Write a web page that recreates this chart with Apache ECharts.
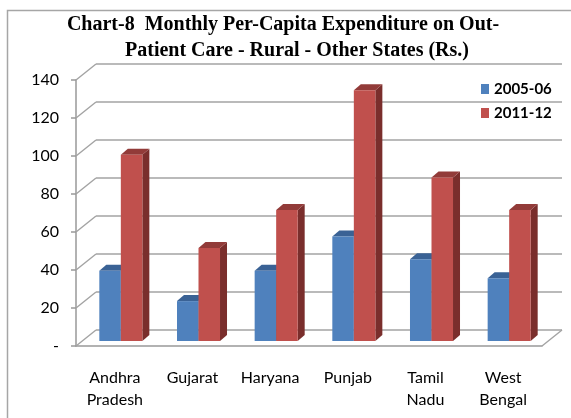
<!DOCTYPE html>
<html>
<head>
<meta charset="utf-8">
<script src="https://cdn.jsdelivr.net/npm/echarts@6/dist/echarts.min.js"></script>
<style>
  html, body { margin: 0; padding: 0; background: #fff; }
  #main { width: 571px; height: 418px; }
</style>
</head>
<body>
<div id="main"></div>
<script>
var states = ['Andhra\nPradesh', 'Gujarat', 'Haryana', 'Punjab', 'Tamil\nNadu', 'West\nBengal'];
var years = ['2005-06', '2011-12'];
var exp0506 = [37, 21, 37, 55, 43, 33];
var exp1112 = [98, 49, 69, 132, 86, 69];
var yTicks = [0, 20, 40, 60, 80, 100, 120, 140];

// fake 3d: back wall offset, bar offset, bar depth
var DX = 20, DY = -16;
var BX = 6, BY = -5;
var BDX = 7, BDY = -6;

var chart = echarts.init(document.getElementById('main'));

function wallItem(params, api) {
  var cs = params.coordSys;
  var y = api.coord([0, api.value(1)])[1];
  var lineStyle = { stroke: '#a3a3a3', lineWidth: 1.5 };
  var children = [
    { type: 'line', shape: { x1: cs.x, y1: y, x2: cs.x + DX, y2: y + DY }, style: lineStyle },
    { type: 'line', shape: { x1: cs.x + DX, y1: y + DY, x2: cs.x + cs.width + DX, y2: y + DY }, style: lineStyle }
  ];
  if (api.value(1) === 0) {
    children.push({ type: 'line', shape: { x1: cs.x + cs.width, y1: y, x2: cs.x + cs.width + DX, y2: y + DY }, style: lineStyle });
  }
  return { type: 'group', silent: true, children: children };
}

function barItem(right, front, top, side) {
  return function (params, api) {
    var i = api.value(0);
    var p0 = api.coord([i, 0]);
    var p1 = api.coord([i, api.value(1)]);
    var w = api.size([1, 0])[0] * 0.277;
    var x0 = p0[0] + BX + (right ? 0 : -w);
    var x1 = x0 + w;
    var yb = p0[1] + BY, yt = p1[1] + BY;
    return {
      type: 'group',
      children: [
        { type: 'polygon', shape: { points: [[x1, yt], [x1 + BDX, yt + BDY], [x1 + BDX, yb + BDY], [x1, yb]] }, style: { fill: side } },
        { type: 'polygon', shape: { points: [[x0, yt], [x0 + BDX, yt + BDY], [x1 + BDX, yt + BDY], [x1, yt]] }, style: { fill: top } },
        { type: 'rect', shape: { x: x0, y: yt, width: w, height: yb - yt }, style: { fill: front } }
      ]
    };
  };
}

var option = {
  animation: false,
  graphic: [
    { type: 'rect', shape: { x: 7.5, y: 10.5, width: 620, height: 450 }, style: { fill: 'none', stroke: '#a6a6a6', lineWidth: 1.5 } },
    { type: 'text', x: 283, y: 25, style: { text: 'Chart-8  Monthly Per-Capita Expenditure on Out-', align: 'center', verticalAlign: 'middle', font: 'bold 20px "Liberation Serif"', fill: '#000' } },
    { type: 'text', x: 297, y: 51, style: { text: 'Patient Care - Rural - Other States (Rs.)', align: 'center', verticalAlign: 'middle', font: 'bold 20px "Liberation Serif"', fill: '#000' } }
  ],
  legend: {
    data: years,
    orient: 'vertical',
    left: 481,
    top: 81,
    padding: 0,
    itemWidth: 8,
    itemHeight: 10,
    itemGap: 8,
    icon: 'rect',
    textStyle: { fontFamily: 'Lato', fontWeight: 'bold', fontSize: 15, lineHeight: 16, color: '#000' }
  },
  grid: { left: 76, right: 29, top: 80, bottom: 72 },
  xAxis: {
    type: 'category',
    data: states,
    axisLine: { lineStyle: { color: '#999', width: 1.5 } },
    axisTick: { length: 6, lineStyle: { color: '#999', width: 1.5 } },
    axisLabel: { fontFamily: 'Lato', fontSize: 16, lineHeight: 22, color: '#000', margin: 21, interval: 0 }
  },
  yAxis: {
    type: 'value',
    min: 0,
    max: 140,
    interval: 20,
    axisLine: { show: true, lineStyle: { color: '#999', width: 1.5 } },
    axisTick: { show: true, length: 5, lineStyle: { color: '#999', width: 1.5 } },
    splitLine: { show: false },
    axisLabel: {
      fontFamily: 'Lato', fontSize: 16, color: '#000', margin: 17,
      formatter: function (v) { return v === 0 ? '-' : v; }
    }
  },
  series: [
    {
      type: 'custom',
      silent: true,
      z: 1,
      renderItem: wallItem,
      encode: { x: 0, y: 1 },
      data: yTicks.map(function (v) { return [0, v]; })
    },
    {
      name: years[0],
      type: 'custom',
      z: 2,
      itemStyle: { color: '#4F81BD' },
      renderItem: barItem(false, '#4F81BD', '#3A6295', '#2E4F78'),
      encode: { x: 0, y: 1 },
      data: exp0506.map(function (v, i) { return [i, v]; })
    },
    {
      name: years[1],
      type: 'custom',
      z: 3,
      itemStyle: { color: '#C0504D' },
      renderItem: barItem(true, '#C0504D', '#923B39', '#7A2E2C'),
      encode: { x: 0, y: 1 },
      data: exp1112.map(function (v, i) { return [i, v]; })
    }
  ]
};

chart.setOption(option);
</script>
</body>
</html>
